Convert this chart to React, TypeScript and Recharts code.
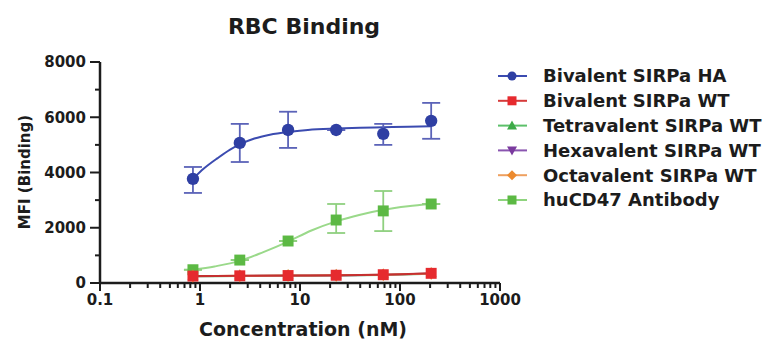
import React from 'react'
import { ComposedChart, Line, Scatter, ErrorBar, XAxis, YAxis, ZAxis } from 'recharts'

const FONT = '"DejaVu Sans", "Liberation Sans", sans-serif'
const INK = '#1c1c1c'

// concentration series (nM), 3-fold dilution
const conc = [0.85, 2.5, 7.6, 23, 68, 205]

// Bivalent SIRPa HA: mean, error (down / up)
const haMean = [3770, 5070, 5540, 5540, 5400, 5870]
const haLow = [510, 690, 650, 0, 400, 650]
const haHigh = [430, 690, 660, 0, 360, 650]

// huCD47 antibody
const cd47Mean = [480, 830, 1520, 2280, 2610, 2860]
const cd47Low = [0, 0, 0, 470, 730, 0]
const cd47High = [0, 0, 0, 580, 720, 0]

// WT constructs, all sitting near the baseline
const bivWT = [250, 260, 270, 280, 300, 350]
const tetraWT = [240, 252, 262, 272, 292, 335]
const hexaWT = [245, 255, 266, 276, 296, 340]
const octaWT = [248, 258, 268, 278, 298, 345]

// fitted curves
const haFitX = [0.85, 1.1, 1.5, 2, 2.5, 3.5, 5, 7.6, 12, 23, 40, 68, 120, 205]
const haFitY = [3770, 4150, 4520, 4830, 5020, 5230, 5370, 5470, 5540, 5590, 5620, 5640, 5660, 5670]
const cd47FitX = [0.85, 1.4, 2.5, 4.3, 7.6, 13, 23, 40, 68, 120, 205]
const cd47FitY = [480, 600, 800, 1120, 1500, 1900, 2230, 2470, 2650, 2780, 2860]

// axis ticks
const xMajor = [0.1, 1, 10, 100, 1000]
const xMinor = [0.2, 0.3, 0.4, 0.5, 0.6, 0.7, 0.8, 0.9, 2, 3, 4, 5, 6, 7, 8, 9, 20, 30, 40, 50, 60, 70, 80, 90, 200, 300, 400, 500, 600, 700, 800, 900]
const yTicks = [0, 1000, 2000, 3000, 4000, 5000, 6000, 7000, 8000]

const legendNames = ['Bivalent SIRPa HA', 'Bivalent SIRPa WT', 'Tetravalent SIRPa WT', 'Hexavalent SIRPa WT', 'Octavalent SIRPa WT', 'huCD47 Antibody']
const legendColors = ['#2f3fa3', '#e62a2e', '#3daa48', '#7a3a9e', '#ec8a2e', '#5cb944']
const legendLines = ['#3b4bb0', '#d63a3a', '#5cc06a', '#8a55b0', '#eea060', '#8fd47e']
const legendShapes = ['circle', 'square', 'triangle', 'triangleDown', 'diamond', 'square']

const points = (ys: number[], lo?: number[], hi?: number[]) =>
  conc.map((x, i) => ({ x, y: ys[i], err: lo && hi ? [lo[i], hi[i]] : undefined }))
const curve = (xs: number[], ys: number[]) => xs.map((x, i) => ({ x, y: ys[i] }))

const XTick = (props: any) => {
  const { x, y, payload } = props
  const major = xMajor.includes(payload.value)
  return (
    <g>
      <line x1={x} x2={x} y1={y} y2={y + (major ? 8 : 5)} stroke={INK} strokeWidth={2} />
      {major && (
        <text x={x} y={y + 22} textAnchor="middle" fontFamily={FONT} fontWeight="bold" fontSize={15} fill={INK}>
          {String(payload.value)}
        </text>
      )}
    </g>
  )
}

const YTick = (props: any) => {
  const { x, y, payload } = props
  const major = payload.value % 2000 === 0
  return (
    <g>
      <line x1={x} x2={x - (major ? 10 : 5)} y1={y} y2={y} stroke={INK} strokeWidth={2} />
      {major && (
        <text x={x - 14} y={y} dy="0.36em" textAnchor="end" fontFamily={FONT} fontWeight="bold" fontSize={15} fill={INK}>
          {payload.value}
        </text>
      )}
    </g>
  )
}

const DownTriangle = (props: any) => {
  const { cx, cy, fill } = props
  return <polygon points={`${cx - 4},${cy - 3} ${cx + 4},${cy - 3} ${cx},${cy + 4}`} fill={fill} />
}

const LegendMark = ({ shape, cx, cy, color }: { shape: string; cx: number; cy: number; color: string }) => {
  if (shape === 'circle') return <circle cx={cx} cy={cy} r={4.5} fill={color} />
  if (shape === 'square') return <rect x={cx - 4.5} y={cy - 4.5} width={9} height={9} fill={color} />
  if (shape === 'triangle') return <polygon points={`${cx - 5},${cy + 4} ${cx + 5},${cy + 4} ${cx},${cy - 5}`} fill={color} />
  if (shape === 'triangleDown') return <polygon points={`${cx - 5},${cy - 4} ${cx + 5},${cy - 4} ${cx},${cy + 5}`} fill={color} />
  return <polygon points={`${cx},${cy - 5} ${cx + 5},${cy} ${cx},${cy + 5} ${cx - 5},${cy}`} fill={color} />
}

export default function App() {
  return (
    <div style={{ position: 'absolute', left: 0, top: 0, width: 771, height: 340, background: '#fff' }}>
      <ComposedChart width={771} height={340} margin={{ top: 62, right: 271, bottom: 17, left: 0 }}>
        <XAxis
          type="number"
          dataKey="x"
          scale="log"
          domain={[0.1, 1000]}
          allowDataOverflow
          ticks={[...xMajor, ...xMinor]}
          interval={0}
          tick={<XTick />}
          tickLine={false}
          tickSize={0}
          tickMargin={0}
          height={40}
          axisLine={{ stroke: INK, strokeWidth: 2.5 }}
        />
        <YAxis
          type="number"
          domain={[0, 8000]}
          ticks={yTicks}
          interval={0}
          tick={<YTick />}
          tickLine={false}
          tickSize={0}
          tickMargin={0}
          width={100}
          axisLine={{ stroke: INK, strokeWidth: 2.5 }}
        />
        <ZAxis zAxisId="big" range={[120, 120]} />
        <ZAxis zAxisId="small" range={[50, 50]} />

        {/* huCD47 antibody */}
        <Line data={curve(cd47FitX, cd47FitY)} dataKey="y" type="monotone" stroke="#9ad98a" strokeWidth={2} dot={false} isAnimationActive={false} />
        <Scatter zAxisId="big" data={points(cd47Mean, cd47Low, cd47High)} dataKey="y" fill="#5cb944" shape="square" isAnimationActive={false}>
          <ErrorBar dataKey="err" direction="y" width={9} stroke="#8fd07f" strokeWidth={1.8} />
        </Scatter>

        {/* WT constructs, hidden under the bivalent WT marks */}
        <Line data={points(tetraWT)} dataKey="y" type="monotone" stroke="#5cc06a" strokeWidth={2} dot={false} isAnimationActive={false} />
        <Scatter zAxisId="small" data={points(tetraWT)} dataKey="y" fill="#3daa48" shape="triangle" isAnimationActive={false} />
        <Line data={points(hexaWT)} dataKey="y" type="monotone" stroke="#8a55b0" strokeWidth={2} dot={false} isAnimationActive={false} />
        <Scatter zAxisId="small" data={points(hexaWT)} dataKey="y" fill="#7a3a9e" shape={<DownTriangle />} isAnimationActive={false} />
        <Line data={points(octaWT)} dataKey="y" type="monotone" stroke="#eea060" strokeWidth={2} dot={false} isAnimationActive={false} />
        <Scatter zAxisId="small" data={points(octaWT)} dataKey="y" fill="#ec8a2e" shape="diamond" isAnimationActive={false} />
        <Line data={points(bivWT)} dataKey="y" type="monotone" stroke="#c43030" strokeWidth={2} dot={false} isAnimationActive={false} />
        <Scatter zAxisId="big" data={points(bivWT)} dataKey="y" fill="#e62a2e" shape="square" isAnimationActive={false} />

        {/* Bivalent SIRPa HA */}
        <Line data={curve(haFitX, haFitY)} dataKey="y" type="monotone" stroke="#3b4bb0" strokeWidth={2} dot={false} isAnimationActive={false} />
        <Scatter zAxisId="big" data={points(haMean, haLow, haHigh)} dataKey="y" fill="#2f3fa3" shape="circle" isAnimationActive={false}>
          <ErrorBar dataKey="err" direction="y" width={9} stroke="#5b63b8" strokeWidth={1.8} />
        </Scatter>
      </ComposedChart>

      <svg width={771} height={340} style={{ position: 'absolute', left: 0, top: 0, pointerEvents: 'none' }}>
        <text x={304} y={34} textAnchor="middle" fontFamily={FONT} fontWeight="bold" fontSize={22} fill={INK}>
          RBC Binding
        </text>
        <text
          x={25}
          y={172}
          dy="0.36em"
          textAnchor="middle"
          transform="rotate(-90 25 172)"
          fontFamily={FONT}
          fontWeight="bold"
          fontSize={15}
          fill={INK}
        >
          MFI (Binding)
        </text>
        <text x={303} y={336} textAnchor="middle" fontFamily={FONT} fontWeight="bold" fontSize={19} fill={INK}>
          Concentration (nM)
        </text>
        {legendNames.map((name, i) => {
          const cy = 76 + i * 24.8
          return (
            <g key={name}>
              <line x1={498} x2={527} y1={cy} y2={cy} stroke={legendLines[i]} strokeWidth={2} />
              <LegendMark shape={legendShapes[i]} cx={512} cy={cy} color={legendColors[i]} />
              <text x={543} y={cy} dy="0.36em" fontFamily={FONT} fontWeight="bold" fontSize={18} fill={INK}>
                {name}
              </text>
            </g>
          )
        })}
      </svg>
    </div>
  )
}
